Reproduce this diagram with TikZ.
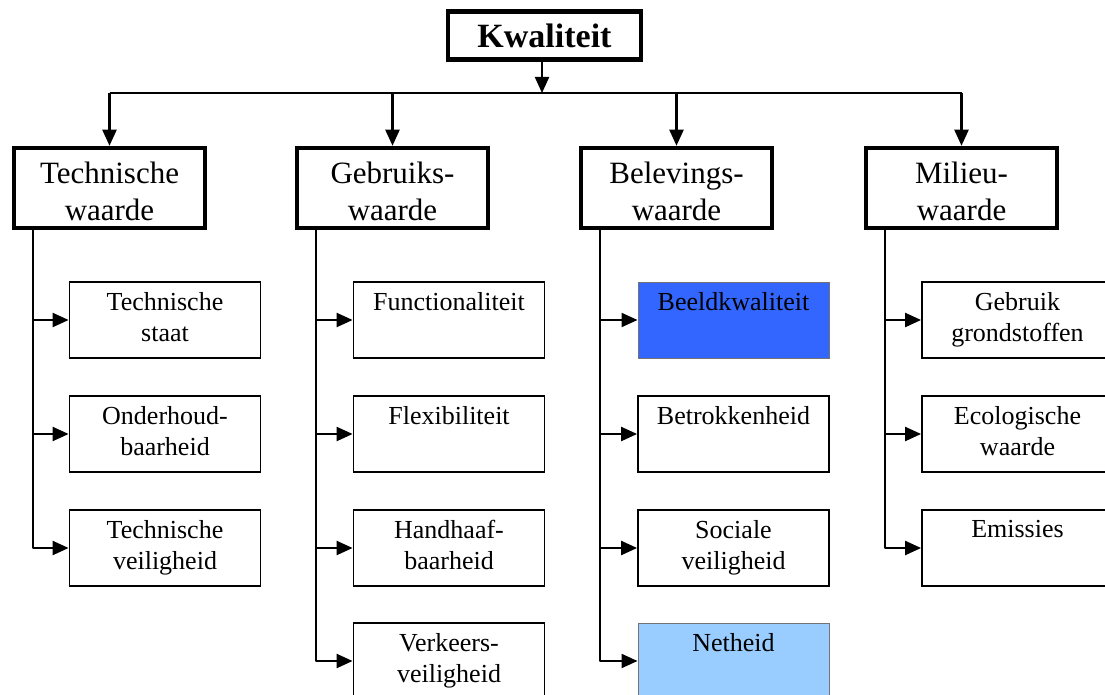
\documentclass[tikz,border=0pt]{standalone}
\usepackage{fontspec}
\setmainfont{Liberation Serif}
\usetikzlibrary{arrows.meta}
\definecolor{deepblue}{HTML}{3366FF}
\definecolor{paleblue}{HTML}{99CCFF}
\begin{document}
\begin{tikzpicture}[x=1pt,y=-1pt,
  topbox/.style={draw, line width=4.5pt, inner sep=0pt, minimum width=193pt, minimum height=48pt,
    font=\fontsize{34}{40}\selectfont\bfseries},
  catbox/.style={draw, line width=4.5pt, inner sep=0pt, minimum width=191pt, minimum height=80pt},
  cattext/.style={align=center, inner sep=0pt, font=\fontsize{31}{37}\selectfont},
  kidbox/.style={draw, line width=1.8pt, inner sep=0pt, minimum width=191pt, minimum height=76pt},
  kidtext/.style={anchor=north, align=center, inner sep=0pt, font=\fontsize{26}{31}\selectfont},
  trunk/.style={line width=2.2pt},
  link/.style={line width=2.2pt, line join=round, -{Triangle[length=16pt,width=14pt]}}
]
\useasboundingbox (0,0) rectangle (1105,695);
\clip (0,0) rectangle (1105,695);

% root
\node[topbox] (kw) at (544.5,35.5) {Kwaliteit};
\coordinate (bus) at (542,93);

% four value categories: box, caption
\newcommand\cat[3]{%
  \node[catbox] (#1) at (#2) {};
  \node[cattext] (#1txt) at ([yshift=-3pt]#1.center) {#3};
}
\cat{tech}{109.5,188}{Technische\\waarde}
\cat{gebr}{392.5,188}{Gebruiks-\\waarde}
\cat{bel}{676.5,188}{Belevings-\\waarde}
\cat{mil}{961.5,188}{Milieu-\\waarde}

% root to categories
\draw[link] ([xshift=-2.5pt]kw.south) -- ([xshift=-2.5pt]kw.south |- bus);
\draw[trunk] (bus -| tech.north) -- (bus -| mil.north);
\foreach \c in {tech,gebr,bel,mil}
  \draw[link] (bus -| \c.north) -- (\c.north);

% sub-aspects: box, caption, link from the category trunk
\newcommand\kid[5][]{%
  \node[kidbox,#1] (#2) at (#3) {};
  \node[kidtext] (#2txt) at ([yshift=-11pt]#2.north) {#4};
  \draw[link] ([xshift=21pt]#5.south west) |- (#2.west);
}

% technische waarde
\kid{t1}{165,320}{Technische\\staat}{tech}
\kid{t2}{165,434}{Onderhoud-\\baarheid}{tech}
\kid{t3}{165,548}{Technische\\veiligheid}{tech}

% gebruikswaarde
\kid{g1}{449,320}{Functionaliteit}{gebr}
\kid{g2}{449,434}{Flexibiliteit}{gebr}
\kid{g3}{449,548}{Handhaaf-\\baarheid}{gebr}
\kid{g4}{449,661}{Verkeers-\\veiligheid}{gebr}

% belevingswaarde
\kid[fill=deepblue,draw=black!55,line width=1pt]{b1}{733.5,320}{Beeldkwaliteit}{bel}
\kid{b2}{733.5,434}{Betrokkenheid}{bel}
\kid{b3}{733.5,548}{Sociale\\veiligheid}{bel}
\kid[fill=paleblue,draw=black!55,line width=1pt]{b4}{733.5,661}{Netheid}{bel}

% milieuwaarde
\kid{m1}{1017.5,320}{Gebruik\\grondstoffen}{mil}
\kid{m2}{1017.5,434}{Ecologische\\waarde}{mil}
\kid{m3}{1017.5,548}{Emissies}{mil}
\end{tikzpicture}
\end{document}
